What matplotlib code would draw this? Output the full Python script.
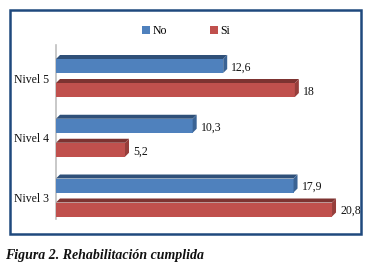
import matplotlib
matplotlib.use("Agg")
import matplotlib.pyplot as plt
from matplotlib.patches import Rectangle, Polygon

categories = ["Nivel 3", "Nivel 4", "Nivel 5"]
no_values = [17.9, 10.3, 12.6]
si_values = [20.8, 5.2, 18]
no_labels = ["17,9", "10,3", "12,6"]
si_labels = ["20,8", "5,2", "18"]
series_names = ["No", "Si"]

W, H = 372, 265
fig = plt.figure(figsize=(W / 100, H / 100), dpi=100)
plt.rcParams['font.family'] = ['Liberation Serif', 'DejaVu Serif']

def fx(px):
    return px / W

def fy(py):
    return 1 - py / H

# border frame
fig.patches.append(Rectangle((fx(10), fy(234)), fx(351), 224 / H, transform=fig.transFigure,
                             fill=False, edgecolor='#1F497D', linewidth=1.8))

ax_left, ax_right = 56, 345
ax_top, ax_bot = 45, 219
ax = fig.add_axes([fx(ax_left), fy(ax_bot), fx(ax_right - ax_left), (ax_bot - ax_top) / H])
ax.set_facecolor('none')

px_per_unit_x = 13.27
px_per_unit_y = 59.75
ax.set_xlim(0, (ax_right - ax_left) / px_per_unit_x)
ax.set_ylim(0 - (219 - 197.5) / px_per_unit_y, 2 + (78 - 45) / px_per_unit_y)

bar_h = 14 / px_per_unit_y
off = 12 / px_per_unit_y
depth_px = 4
dx = depth_px / px_per_unit_x
dy = depth_px / px_per_unit_y

styles = [
    ('#4F81BD', '#2F5079', '#3A6394'),
    ('#C0504D', '#7D3331', '#963E3B'),
]

ypos = list(range(len(categories)))
for s, (vals, labs, sign) in enumerate([(no_values, no_labels, 1), (si_values, si_labels, -1)]):
    front, top, side = styles[s]
    ys = [y + sign * off for y in ypos]
    ax.barh(ys, vals, height=bar_h, color=front, zorder=3)
    for y, v, lab in zip(ys, vals, labs):
        y0, y1 = y - bar_h / 2, y + bar_h / 2
        ax.add_patch(Polygon([(0, y1), (v, y1), (v + dx, y1 + dy), (dx, y1 + dy)],
                             closed=True, facecolor=top, edgecolor='none', zorder=3))
        ax.add_patch(Polygon([(v, y0), (v + dx, y0 + dy), (v + dx, y1 + dy), (v, y1)],
                             closed=True, facecolor=side, edgecolor='none', zorder=3))
        ax.annotate(lab, xy=(v, y), xytext=(8, -1.5), textcoords='offset pixels',
                    ha='left', va='center', fontsize=8.5, color='#111111')

ax.set_yticks(ypos)
ax.set_yticklabels(categories, fontsize=8.5, color='#111111')
ax.tick_params(axis='y', length=0, pad=5)
ax.set_xticks([])
for sp in ['top', 'right', 'bottom']:
    ax.spines[sp].set_visible(False)
ax.spines['left'].set_color('#BFBFBF')
ax.spines['left'].set_linewidth(1.2)

handles = [Rectangle((0, 0), 1, 1, facecolor=styles[i][0], edgecolor='none') for i in range(2)]
fig.legend(handles, series_names, loc='center', bbox_to_anchor=(fx(186), fy(31)),
           ncol=2, frameon=False, fontsize=8.5, handlelength=0.7, handleheight=0.7,
           handletextpad=0.2, columnspacing=3.6, borderpad=0)

fig.text(fx(5), fy(255), "Figura 2. Rehabilitación cumplida", fontsize=10,
         fontweight='bold', fontstyle='italic', ha='left', va='center', color='#111111')

fig.savefig("out.png", dpi=100)
